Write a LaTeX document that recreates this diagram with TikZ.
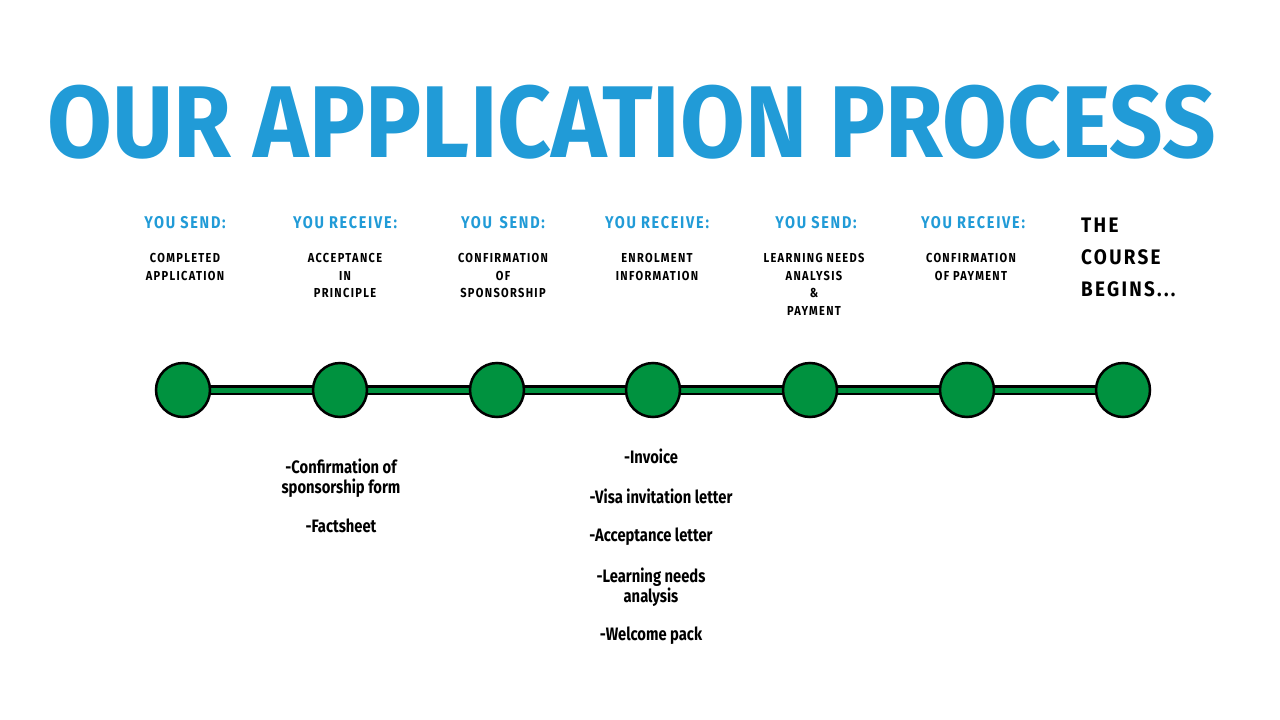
\documentclass[tikz,border=0pt]{standalone}
\usepackage{fontspec}
\setmainfont{Fira Sans}
\newfontfamily\spaced[LetterSpace=12]{Fira Sans}
\usetikzlibrary{positioning}
\definecolor{titleblue}{RGB}{33,155,215}
\definecolor{dotgreen}{RGB}{0,146,63}
\tikzset{
  stage/.style={circle,draw=black,line width=2.5pt,fill=dotgreen,minimum size=54pt,inner sep=0pt},
  head/.style={font=\spaced\bfseries\fontsize{17}{19}\selectfont,text=titleblue,xscale=0.85},
  item/.style={font=\spaced\bfseries\fontsize{13}{17.5}\selectfont,align=center,xscale=0.85,anchor=north},
  extra/.style={font=\bfseries\fontsize{18}{20}\selectfont,align=center,xscale=0.82,anchor=north}
}
\begin{document}
\begin{tikzpicture}[x=1pt,y=-1pt]
  \useasboundingbox (0,0) rectangle (1280,720);

  \node[font=\bfseries\fontsize{102}{102}\selectfont,text=titleblue,xscale=0.92] (title) at (632,122) {OUR APPLICATION PROCESS};

  % line first, stages on top
  \foreach \n/\x in {1/183,2/340,3/497,4/653,5/810,6/967,7/1123}
    \coordinate (c\n) at (\x,390);
  \draw[black,line width=10pt] (c1) -- (c7);
  \draw[dotgreen,line width=5pt] (c1) -- (c7);
  \foreach \n in {1,...,7}
    \node[stage] (s\n) at (c\n) {};

  % headers
  \node[head] (h1) at (185,223) {YOU SEND:};
  \node[head] (h2) at (345,223) {YOU RECEIVE:};
  \node[head] (h3) at (503,223) {YOU\, SEND:};
  \node[head] (h4) at (657,223) {YOU RECEIVE:};
  \node[head] (h5) at (816,223) {YOU SEND:};
  \node[head] (h6) at (973,223) {YOU RECEIVE:};

  \node[item] (t1) at (185,250) {COMPLETED\\APPLICATION};
  \node[item] (t2) at (345,250) {ACCEPTANCE\\IN\\PRINCIPLE};
  \node[item] (t3) at (503,250) {CONFIRMATION\\OF\\SPONSORSHIP};
  \node[item] (t4) at (657,250) {ENROLMENT\\INFORMATION};
  \node[item] (t5) at (814,250) {LEARNING NEEDS\\ANALYSIS\\\&\\PAYMENT};
  \node[item] (t6) at (971,250) {CONFIRMATION\\OF PAYMENT};
  \node[font=\spaced\bfseries\fontsize{21}{32}\selectfont,align=left,anchor=north west,xscale=0.9] (t7) at (1078,214) {THE\\COURSE\\BEGINS...};

  % what comes with each step
  \node[extra] (e1) at (341,455) {-Confirmation of\\sponsorship form};
  \node[extra] (e2) at (341,515) {-Factsheet};
  \node[extra] (e3) at (651,445) {-Invoice};
  \node[extra] (e4) at (661,485) {-Visa invitation letter};
  \node[extra] (e5) at (651,524) {-Acceptance letter};
  \node[extra] (e6) at (651,564) {-Learning needs\\analysis};
  \node[extra] (e7) at (651,623) {-Welcome pack};
\end{tikzpicture}
\end{document}
